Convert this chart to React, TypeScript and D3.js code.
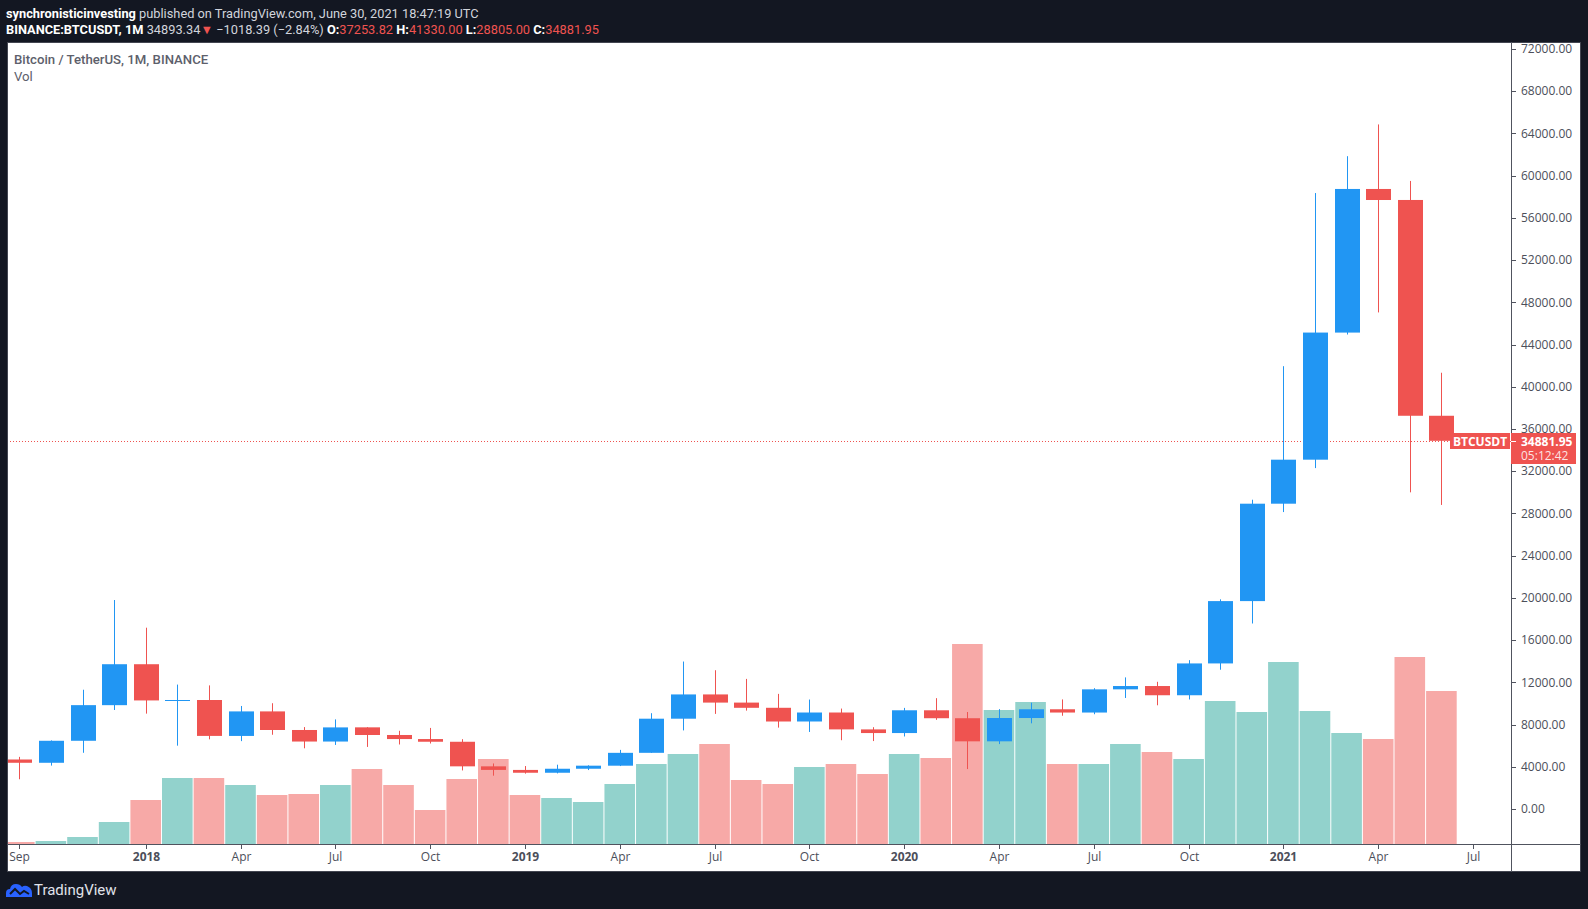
import * as d3 from 'd3';

// monthly BTC/USDT candles, Binance, Sep 2017 - Jun 2021
const months = [
  '2017-09', '2017-10', '2017-11', '2017-12',
  '2018-01', '2018-02', '2018-03', '2018-04', '2018-05', '2018-06', '2018-07', '2018-08', '2018-09', '2018-10', '2018-11', '2018-12',
  '2019-01', '2019-02', '2019-03', '2019-04', '2019-05', '2019-06', '2019-07', '2019-08', '2019-09', '2019-10', '2019-11', '2019-12',
  '2020-01', '2020-02', '2020-03', '2020-04', '2020-05', '2020-06', '2020-07', '2020-08', '2020-09', '2020-10', '2020-11', '2020-12',
  '2021-01', '2021-02', '2021-03', '2021-04', '2021-05', '2021-06',
];
const opens = [
  4689.89, 4378.49, 6463.0, 9837.0,
  13715.65, 10285.1, 10325.64, 6922.0, 9246.01, 7485.01, 6391.08, 7735.67, 7011.21, 6626.57, 6369.52, 4041.27,
  3701.23, 3434.1, 3814.26, 4102.44, 5321.94, 8555.0, 10854.1, 10080.53, 9588.74, 8289.97, 9140.86, 7540.63,
  7195.24, 9351.71, 8599.58, 6412.14, 8620.0, 9448.27, 9138.08, 11335.46, 11649.51, 10776.59, 13791.0, 19695.87,
  28923.63, 33092.97, 45134.11, 58739.46, 57697.25, 37253.82,
];
const highs = [
  4939.19, 6498.01, 11300.03, 19798.68,
  17176.24, 11786.01, 11710.0, 9759.82, 10020.0, 7760.0, 8488.0, 7750.0, 7410.0, 7680.0, 6615.15, 4312.99,
  4069.8, 4198.0, 4140.0, 5600.0, 9074.26, 13970.0, 13147.08, 12325.0, 10905.87, 10370.0, 9513.68, 7750.0,
  9578.0, 10500.0, 9188.0, 9460.0, 10067.0, 10380.0, 11444.0, 12468.0, 12050.85, 14100.0, 19863.16, 29300.0,
  41950.0, 58352.8, 61844.0, 64854.0, 59500.0, 41330.0,
];
const lows = [
  2817.0, 4110.0, 5325.01, 9380.0,
  9035.0, 6000.01, 6600.1, 6430.0, 7032.95, 5750.0, 6070.0, 5880.0, 6111.0, 6205.0, 3652.66, 3156.26,
  3349.92, 3373.1, 3689.12, 4067.0, 5316.2, 7444.58, 9010.0, 9320.0, 7710.0, 7300.0, 6515.0, 6435.0,
  6871.04, 8445.0, 3782.13, 6150.11, 8117.0, 8833.0, 8977.0, 10518.5, 9825.0, 10374.0, 13195.0, 17572.33,
  28130.0, 32296.16, 44950.53, 47044.01, 30000.0, 28805.0,
];
const closes = [
  4378.51, 6463.0, 9838.96, 13716.36,
  10285.1, 10326.5, 6923.91, 9246.01, 7485.01, 6391.08, 7730.93, 7011.21, 6626.57, 6371.93, 4041.32, 3702.9,
  3434.1, 3813.69, 4103.95, 5320.81, 8555.0, 10854.1, 10080.53, 9587.47, 8289.34, 9140.85, 7541.89, 7195.23,
  9352.89, 8599.5, 6410.44, 8620.0, 9448.27, 9138.55, 11335.46, 11649.51, 10776.59, 13791.0, 19695.87, 28923.63,
  33092.98, 45135.66, 58740.55, 57694.27, 37253.81, 34881.95,
];
// volume, thousand BTC
const volumesK = [
  32, 48, 112, 352,
  704, 1056, 1056, 944, 784, 800, 944, 1200, 944, 544, 1040, 1360,
  784, 736, 672, 960, 1280, 1440, 1600, 1024, 960, 1232, 1280, 1120,
  1440, 1376, 3200, 2144, 2272, 1280, 1280, 1600, 1472, 1360, 2288, 2112,
  2912, 2128, 1776, 1680, 2992, 2448,
];

const xTickMonths = [
  '2017-09', '2018-01', '2018-04', '2018-07', '2018-10', '2019-01', '2019-04', '2019-07',
  '2019-10', '2020-01', '2020-04', '2020-07', '2020-10', '2021-01', '2021-04', '2021-07',
];
const xTickLabels = ['Sep', '2018', 'Apr', 'Jul', 'Oct', '2019', 'Apr', 'Jul', 'Oct', '2020', 'Apr', 'Jul', 'Oct', '2021', 'Apr', 'Jul'];
const priceTicks = d3.range(0, 72001, 4000);

const W = 1588;
const H = 909;
const panel = { left: 7, top: 42, right: 1581, bottom: 872 };
const plotRight = 1511;
const plotBottom = 844;

const BG = '#131722';
const UP = '#2196f3';
const DOWN = '#ef5350';
const VOL_UP = '#92d2cc';
const VOL_DOWN = '#f7a9a7';
const AXIS = '#50535e';
const TEXT = '#4c4f5a';
const FONT = 'Roboto, sans-serif';
const AXIS_FONT = "'Open Sans', 'Liberation Sans', sans-serif";

const monthIndex = (ym: string) => {
  const [yr, mo] = ym.split('-').map(Number);
  return (yr - 2017) * 12 + mo - 9;
};

export default function App() {
  const x = d3.scaleLinear().domain([0, 46]).range([19.3, 1473]);
  const step = x(1) - x(0);
  const bodyW = Math.round(step * 0.79);
  const y = d3.scaleLinear().domain([0, 72000]).range([809, 49]);
  const yVol = d3.scaleLinear().domain([0, d3.max(volumesK) as number]).range([plotBottom, 644]);
  const fmt = d3.format('.2f');

  const last = closes.length - 1;
  const lastY = Math.round(y(closes[last])) + 0.5;

  return (
    <svg width={W} height={H} style={{ position: 'fixed', left: 0, top: 0, background: BG }}>
      <rect x={0} y={0} width={W} height={H} fill={BG} />

      {/* header */}
      <text x={6} y={18} fontFamily={FONT} fontSize={12.8} fill="#d1d4dc">
        <tspan fontWeight="bold" fill="#ffffff">synchronisticinvesting</tspan>
        <tspan> published on TradingView.com, June 30, 2021 18:47:19 UTC</tspan>
      </text>
      <text x={6} y={34} fontFamily={FONT} fontSize={12.8} fill="#d1d4dc">
        <tspan fontWeight="bold" fill="#ffffff">BINANCE:BTCUSDT, 1M</tspan>
        <tspan> 34893.34</tspan>
        <tspan fill={DOWN}>▼</tspan>
        <tspan> −1018.39 (−2.84%) </tspan>
        <tspan fontWeight="bold" fill="#ffffff">O:</tspan>
        <tspan fill={DOWN}>{fmt(opens[last])}</tspan>
        <tspan fontWeight="bold" fill="#ffffff"> H:</tspan>
        <tspan fill={DOWN}>{fmt(highs[last])}</tspan>
        <tspan fontWeight="bold" fill="#ffffff"> L:</tspan>
        <tspan fill={DOWN}>{fmt(lows[last])}</tspan>
        <tspan fontWeight="bold" fill="#ffffff"> C:</tspan>
        <tspan fill={DOWN}>{fmt(closes[last])}</tspan>
      </text>

      {/* chart panel */}
      <rect
        x={panel.left + 0.5}
        y={panel.top + 0.5}
        width={panel.right - panel.left - 1}
        height={panel.bottom - panel.top - 1}
        fill="#ffffff"
        stroke="#434651"
      />
      <defs>
        <clipPath id="plot">
          <rect x={panel.left + 1} y={panel.top + 1} width={plotRight - panel.left - 1} height={plotBottom - panel.top - 1} />
        </clipPath>
      </defs>

      <g clipPath="url(#plot)">
        {/* volume */}
        {volumesK.map((v, i) => (
          <rect
            key={'v' + i}
            x={x(i) - step / 2 + 0.5}
            y={yVol(v)}
            width={step - 1}
            height={plotBottom - yVol(v)}
            fill={closes[i] >= opens[i] ? VOL_UP : VOL_DOWN}
          />
        ))}

        {/* last price line */}
        <line x1={panel.left} x2={plotRight} y1={lastY} y2={lastY} stroke={DOWN} strokeWidth={1} strokeDasharray="1 2" />

        {/* candles */}
        {months.map((m, i) => {
          const up = closes[i] >= opens[i];
          const col = up ? UP : DOWN;
          const cx = Math.round(x(i));
          const top = y(Math.max(opens[i], closes[i]));
          const bot = y(Math.min(opens[i], closes[i]));
          return (
            <g key={m}>
              <line x1={cx + 0.5} x2={cx + 0.5} y1={y(highs[i])} y2={y(lows[i])} stroke={col} strokeWidth={1} />
              <rect x={cx - (bodyW - 1) / 2} y={top} width={bodyW} height={Math.max(1, bot - top)} fill={col} />
            </g>
          );
        })}
      </g>

      {/* legend */}
      <text x={14} y={64} fontFamily={FONT} fontSize={13.2} fontWeight={500} fill="#5d606b">
        Bitcoin / TetherUS, 1M, BINANCE
      </text>
      <text x={14} y={81} fontFamily={FONT} fontSize={13.2} fill="#5d606b">
        Vol
      </text>

      {/* axes */}
      <line x1={plotRight + 0.5} x2={plotRight + 0.5} y1={panel.top} y2={panel.bottom} stroke={AXIS} />
      <line x1={panel.left} x2={panel.right} y1={plotBottom + 0.5} y2={plotBottom + 0.5} stroke={AXIS} />

      {priceTicks.map((p) => (
        <g key={'p' + p}>
          <line x1={plotRight} x2={plotRight + 5} y1={Math.round(y(p)) + 0.5} y2={Math.round(y(p)) + 0.5} stroke={AXIS} />
          <text x={1521} y={y(p)} dy="0.35em" fontFamily={AXIS_FONT} fontSize={12} fill={TEXT}>
            {fmt(p)}
          </text>
        </g>
      ))}

      {xTickMonths.map((m, k) => {
        const tx = Math.round(x(monthIndex(m))) + 0.5;
        const isYear = /^\d{4}$/.test(xTickLabels[k]);
        return (
          <g key={'t' + m}>
            <line x1={tx} x2={tx} y1={plotBottom} y2={plotBottom + 5} stroke={AXIS} />
            <text
              x={tx}
              y={861}
              textAnchor="middle"
              fontFamily={AXIS_FONT}
              fontSize={12}
              fontWeight={isYear ? 'bold' : 'normal'}
              fill={TEXT}
            >
              {xTickLabels[k]}
            </text>
          </g>
        );
      })}

      {/* last price labels */}
      <rect x={1450} y={lastY - 8.5} width={60} height={16} fill={DOWN} />
      <text x={1480} y={lastY} dy="0.35em" textAnchor="middle" fontFamily={AXIS_FONT} fontSize={12} fontWeight="bold" fill="#ffffff">
        BTCUSDT
      </text>
      <rect x={plotRight} y={lastY - 8.5} width={65} height={31} fill={DOWN} />
      <line x1={plotRight} x2={plotRight + 5} y1={lastY} y2={lastY} stroke="#ffffff" />
      <text x={1521} y={lastY} dy="0.35em" fontFamily={AXIS_FONT} fontSize={12} fontWeight="bold" fill="#ffffff">
        {fmt(closes[last])}
      </text>
      <text x={1521} y={lastY + 14} dy="0.35em" fontFamily={AXIS_FONT} fontSize={12} fill="#ffffff" fillOpacity={0.85}>
        05:12:42
      </text>

      {/* footer logo */}
      <g transform="translate(6,883)">
        <path
          d="M0 14 L0 10 Q0 6 4 6 Q5 1 10 1 Q14 1 16 4 Q18 2 21 3 Q26 5 26 10 L26 14 Z"
          fill="#2962ff"
        />
        <path d="M4 11 L9 6 L14 11 L18 8 L23 11" fill="none" stroke={BG} strokeWidth={2} />
      </g>
      <text x={34} y={895} fontFamily={FONT} fontSize={15} fill="#e0e3eb">
        TradingView
      </text>
    </svg>
  );
}
